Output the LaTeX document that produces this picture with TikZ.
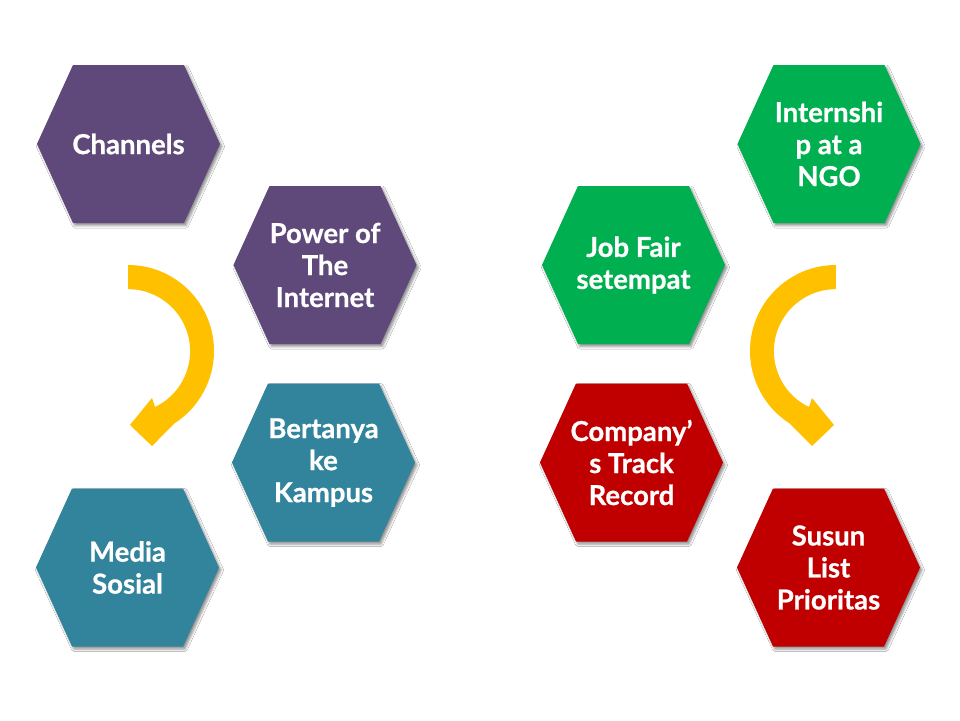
\documentclass[tikz,border=0pt]{standalone}
\usepackage{fontspec}
\setmainfont{Lato}[BoldFeatures={FakeBold=0.7}]
\usetikzlibrary{shadows.blur}
\definecolor{hpurple}{HTML}{5F497A}
\definecolor{hteal}{HTML}{31849B}
\definecolor{hgreen}{HTML}{00B050}
\definecolor{hred}{HTML}{C00000}
\definecolor{harrow}{HTML}{FFC000}
\begin{document}
\begin{tikzpicture}[x=1pt,y=-1pt,
  hexfill/.style={fill=#1, blur shadow={shadow xshift=2pt, shadow yshift=-2.5pt, shadow blur radius=2.5pt, shadow opacity=45}},
  hexlabel/.style={text=white, align=center, inner sep=0pt, font=\fontsize{27.5}{32}\selectfont\bfseries},
  arrowfill/.style={fill=harrow}]
\useasboundingbox[fill=white] (0,0) rectangle (960,720);
\newcommand\hexagonat[5]{%
  \fill[hexfill=#4] (#2-91.5,#3) -- (#2-55.5,#3-79) -- (#2+55.5,#3-79) -- (#2+91.5,#3) -- (#2+55.5,#3+79) -- (#2-55.5,#3+79) -- cycle;
  \node[hexlabel] (#1) at (#2,#3) {#5};
}
\hexagonat{channels}{128.5}{144}{hpurple}{Channels}
\hexagonat{power}{325}{265}{hpurple}{Power of\\The\\Internet}
\hexagonat{bertanya}{323.5}{462.5}{hteal}{Bertanya\\ke\\Kampus}
\hexagonat{media}{127.5}{567.5}{hteal}{Media\\Sosial}
\hexagonat{intern}{829}{144}{hgreen}{Internshi\\p at a\\NGO}
\hexagonat{jobfair}{633.5}{265}{hgreen}{Job Fair\\setempat}
\hexagonat{company}{631.5}{462.5}{hred}{Company’\\s Track\\Record}
\hexagonat{susun}{828.5}{567.5}{hred}{Susun\\List\\Prioritas}
% left circular arrow
\coordinate (lc) at (128,351);
\fill[arrowfill] (128,265) arc[start angle=-90, end angle=57, radius=86]
  -- (152,446) -- (130,425) -- (152,398) -- (155,407)
  arc[start angle=64.3, end angle=-90, radius=62] -- cycle;
% right circular arrow
\coordinate (rc) at (836,351);
\fill[arrowfill] (836,265) arc[start angle=270, end angle=123, radius=86]
  -- (812,446) -- (834,425) -- (812,398) -- (809,407)
  arc[start angle=115.7, end angle=270, radius=62] -- cycle;
\end{tikzpicture}
\end{document}
